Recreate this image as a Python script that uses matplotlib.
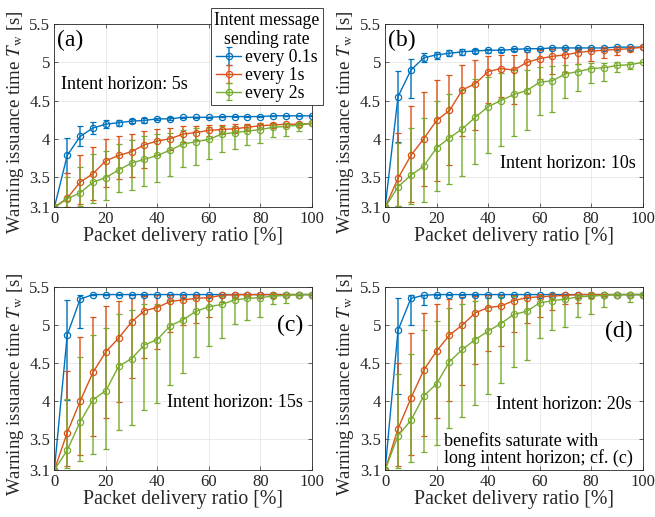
import matplotlib
matplotlib.use("Agg")
import matplotlib.pyplot as plt
import numpy as np

plt.rcParams["font.family"] = ["Liberation Serif", "DejaVu Serif"]
plt.rcParams["mathtext.fontset"] = "stix"

# packet delivery ratio [%]
pdr = list(range(0, 101, 5))

# (a) intent horizon 5s
a_blue = [3.1, 3.78, 4.03, 4.14, 4.19, 4.21, 4.23, 4.24, 4.26, 4.26, 4.28, 4.28, 4.28, 4.29, 4.29, 4.29, 4.29, 4.3, 4.3, 4.3, 4.3]
a_blue_hi = [3.1, 4.01, 4.16, 4.22, 4.25, 4.25, 4.26, 4.27, 4.27, 4.28, 4.29, 4.29, 4.29, 4.29, 4.3, 4.3, 4.3, 4.3, 4.3, 4.3, 4.3]
a_blue_lo = [3.1, 3.55, 3.9, 4.06, 4.14, 4.17, 4.2, 4.21, 4.24, 4.24, 4.27, 4.27, 4.27, 4.28, 4.28, 4.28, 4.28, 4.3, 4.3, 4.3, 4.3]
a_orange = [3.1, 3.22, 3.43, 3.54, 3.71, 3.78, 3.83, 3.92, 3.97, 4.0, 4.06, 4.08, 4.11, 4.12, 4.13, 4.15, 4.17, 4.18, 4.19, 4.19, 4.2]
a_orange_hi = [3.1, 3.55, 3.78, 3.89, 4.0, 4.04, 4.06, 4.1, 4.13, 4.14, 4.16, 4.17, 4.18, 4.18, 4.19, 4.19, 4.2, 4.2, 4.2, 4.2, 4.2]
a_orange_lo = [3.1, 3.1, 3.14, 3.2, 3.37, 3.47, 3.5, 3.62, 3.78, 3.85, 3.95, 3.98, 4.04, 4.06, 4.07, 4.1, 4.13, 4.15, 4.17, 4.18, 4.2]
a_green = [3.1, 3.21, 3.29, 3.43, 3.49, 3.59, 3.68, 3.73, 3.78, 3.85, 3.93, 3.96, 3.99, 4.06, 4.08, 4.1, 4.12, 4.15, 4.16, 4.18, 4.2]
a_green_hi = [3.1, 3.5, 3.63, 3.8, 3.84, 3.93, 3.98, 4.03, 4.06, 4.08, 4.12, 4.14, 4.15, 4.17, 4.17, 4.18, 4.19, 4.19, 4.2, 4.2, 4.2]
a_green_lo = [3.1, 3.1, 3.12, 3.16, 3.19, 3.3, 3.33, 3.38, 3.43, 3.51, 3.63, 3.66, 3.73, 3.83, 3.87, 3.92, 3.94, 4.02, 4.04, 4.1, 4.2]

# (b) intent horizon 10s
b_blue = [3.1, 4.55, 4.9, 5.06, 5.1, 5.12, 5.14, 5.15, 5.16, 5.16, 5.17, 5.18, 5.18, 5.19, 5.19, 5.19, 5.19, 5.19, 5.2, 5.2, 5.2]
b_blue_hi = [3.1, 4.89, 5.05, 5.12, 5.14, 5.16, 5.17, 5.17, 5.18, 5.18, 5.19, 5.19, 5.19, 5.2, 5.2, 5.2, 5.2, 5.2, 5.2, 5.2, 5.2]
b_blue_lo = [3.1, 3.95, 4.54, 5.0, 5.05, 5.08, 5.1, 5.12, 5.13, 5.14, 5.15, 5.16, 5.17, 5.18, 5.18, 5.18, 5.18, 5.19, 5.2, 5.2, 5.2]
b_orange = [3.1, 3.48, 3.78, 4.0, 4.24, 4.37, 4.64, 4.72, 4.88, 4.92, 4.9, 5.0, 5.05, 5.08, 5.1, 5.13, 5.15, 5.16, 5.17, 5.18, 5.2]
b_orange_hi = [3.1, 4.08, 4.43, 4.61, 4.77, 4.84, 4.97, 5.03, 5.09, 5.1, 5.1, 5.14, 5.16, 5.17, 5.18, 5.19, 5.2, 5.2, 5.2, 5.2, 5.2]
b_orange_lo = [3.1, 3.12, 3.17, 3.38, 3.45, 3.65, 4.04, 4.12, 4.47, 4.55, 4.45, 4.6, 4.78, 4.85, 4.88, 4.98, 5.02, 5.06, 5.1, 5.15, 5.2]
b_green = [3.1, 3.37, 3.52, 3.64, 3.88, 4.01, 4.13, 4.28, 4.42, 4.5, 4.58, 4.63, 4.74, 4.76, 4.85, 4.88, 4.92, 4.93, 4.96, 4.97, 5.0]
b_green_hi = [3.1, 3.94, 4.14, 4.27, 4.5, 4.58, 4.64, 4.78, 4.81, 4.86, 4.9, 4.9, 4.94, 4.95, 4.97, 4.98, 4.99, 4.99, 5.0, 5.0, 5.0]
b_green_lo = [3.1, 3.12, 3.14, 3.17, 3.31, 3.4, 3.51, 3.67, 3.81, 3.91, 4.04, 4.12, 4.31, 4.35, 4.54, 4.63, 4.73, 4.75, 4.87, 4.92, 5.0]

# (c) intent horizon 15s
c_blue = [3.1, 4.87, 5.34, 5.4, 5.4, 5.4, 5.4, 5.4, 5.4, 5.4, 5.4, 5.4, 5.4, 5.4, 5.4, 5.4, 5.4, 5.4, 5.4, 5.4, 5.4]
c_blue_hi = [3.1, 5.33, 5.4, 5.4, 5.4, 5.4, 5.4, 5.4, 5.4, 5.4, 5.4, 5.4, 5.4, 5.4, 5.4, 5.4, 5.4, 5.4, 5.4, 5.4, 5.4]
c_blue_lo = [3.1, 4.02, 4.96, 5.4, 5.4, 5.4, 5.4, 5.4, 5.4, 5.4, 5.4, 5.4, 5.4, 5.4, 5.4, 5.4, 5.4, 5.4, 5.4, 5.4, 5.4]
c_orange = [3.1, 3.59, 4.0, 4.38, 4.65, 4.83, 5.04, 5.19, 5.23, 5.31, 5.33, 5.35, 5.36, 5.39, 5.4, 5.4, 5.4, 5.4, 5.4, 5.4, 5.4]
c_orange_hi = [3.1, 4.4, 4.85, 5.11, 5.25, 5.31, 5.36, 5.38, 5.39, 5.4, 5.4, 5.4, 5.4, 5.4, 5.4, 5.4, 5.4, 5.4, 5.4, 5.4, 5.4]
c_orange_lo = [3.1, 3.15, 3.3, 3.54, 3.78, 3.99, 4.3, 4.57, 4.68, 4.91, 5.0, 5.03, 5.11, 5.3, 5.35, 5.38, 5.4, 5.4, 5.4, 5.4, 5.4]
c_green = [3.1, 3.36, 3.73, 4.02, 4.14, 4.46, 4.56, 4.74, 4.81, 4.99, 5.07, 5.18, 5.24, 5.27, 5.33, 5.35, 5.36, 5.38, 5.39, 5.4, 5.4]
c_green_hi = [3.1, 4.03, 4.58, 4.87, 4.96, 5.15, 5.2, 5.27, 5.28, 5.33, 5.35, 5.36, 5.37, 5.38, 5.39, 5.39, 5.4, 5.4, 5.4, 5.4, 5.4]
c_green_lo = [3.1, 3.12, 3.22, 3.31, 3.37, 3.62, 3.69, 3.89, 3.98, 4.22, 4.37, 4.58, 4.73, 4.83, 5.01, 5.06, 5.1, 5.27, 5.29, 5.4, 5.4]

# (d) intent horizon 20s
d_blue = [3.1, 4.93, 5.35, 5.39, 5.4, 5.4, 5.4, 5.4, 5.4, 5.4, 5.4, 5.4, 5.4, 5.4, 5.4, 5.4, 5.4, 5.4, 5.4, 5.4, 5.4]
d_blue_hi = [3.1, 5.35, 5.4, 5.4, 5.4, 5.4, 5.4, 5.4, 5.4, 5.4, 5.4, 5.4, 5.4, 5.4, 5.4, 5.4, 5.4, 5.4, 5.4, 5.4, 5.4]
d_blue_lo = [3.1, 4.1, 5.0, 5.26, 5.36, 5.4, 5.4, 5.4, 5.4, 5.4, 5.4, 5.4, 5.4, 5.4, 5.4, 5.4, 5.4, 5.4, 5.4, 5.4, 5.4]
d_orange = [3.1, 3.64, 4.04, 4.41, 4.66, 4.87, 5.0, 5.16, 5.23, 5.25, 5.32, 5.36, 5.37, 5.38, 5.39, 5.4, 5.4, 5.4, 5.4, 5.4, 5.4]
d_orange_hi = [3.1, 4.5, 4.9, 5.16, 5.28, 5.34, 5.37, 5.38, 5.39, 5.4, 5.4, 5.4, 5.4, 5.4, 5.4, 5.4, 5.4, 5.4, 5.4, 5.4, 5.4]
d_orange_lo = [3.1, 3.15, 3.3, 3.55, 3.78, 4.01, 4.21, 4.49, 4.66, 4.73, 4.91, 5.03, 5.1, 5.2, 5.28, 5.29, 5.35, 5.38, 5.4, 5.4, 5.4]
d_green = [3.1, 3.55, 3.75, 4.07, 4.23, 4.52, 4.68, 4.81, 4.92, 5.02, 5.14, 5.18, 5.29, 5.32, 5.34, 5.37, 5.38, 5.39, 5.4, 5.4, 5.4]
d_green_hi = [3.1, 4.36, 4.62, 4.94, 5.05, 5.22, 5.28, 5.32, 5.35, 5.37, 5.38, 5.39, 5.4, 5.4, 5.4, 5.4, 5.4, 5.4, 5.4, 5.4, 5.4]
d_green_lo = [3.1, 3.12, 3.2, 3.34, 3.43, 3.65, 3.8, 3.95, 4.09, 4.24, 4.45, 4.54, 4.83, 4.93, 4.97, 5.1, 5.15, 5.24, 5.4, 5.3, 5.4]

rate_labels = ["every 0.1s", "every 1s", "every 2s"]
colors = ["#0072BD", "#D95319", "#77AC30"]

panels = [
    ("(a)", "Intent horizon: 5s", [(a_blue, a_blue_lo, a_blue_hi), (a_orange, a_orange_lo, a_orange_hi), (a_green, a_green_lo, a_green_hi)]),
    ("(b)", "Intent horizon: 10s", [(b_blue, b_blue_lo, b_blue_hi), (b_orange, b_orange_lo, b_orange_hi), (b_green, b_green_lo, b_green_hi)]),
    ("(c)", "Intent horizon: 15s", [(c_blue, c_blue_lo, c_blue_hi), (c_orange, c_orange_lo, c_orange_hi), (c_green, c_green_lo, c_green_hi)]),
    ("(d)", "Intent horizon: 20s", [(d_blue, d_blue_lo, d_blue_hi), (d_orange, d_orange_lo, d_orange_hi), (d_green, d_green_lo, d_green_hi)]),
]

fig = plt.figure(figsize=(6.55, 5.17), dpi=100)
lefts = [0.083, 0.588, 0.083, 0.588]
bottoms = [0.599, 0.599, 0.091, 0.091]
w, h = 0.393, 0.354
dark = "#262626"

handles = []
for i, (tag, horizon, series) in enumerate(panels):
    ax = fig.add_axes([lefts[i], bottoms[i], w, h])
    for j, (m, lo, hi) in enumerate(series):
        m = np.array(m)
        yerr = [m - np.array(lo), np.array(hi) - m]
        eb = ax.errorbar(pdr, m, yerr=yerr, color=colors[j], lw=1.0,
                         marker="o", ms=4.5, mfc="none", mew=0.9,
                         elinewidth=1.2, capsize=2.5, capthick=1.0,
                         label=rate_labels[j])
        for bar in eb[2]:
            bar.set_alpha(0.85)
        if i == 0:
            handles.append(eb)
    ax.set_xlim(0, 100)
    ax.set_ylim(3.1, 5.5)
    ax.set_xticks([0, 20, 40, 60, 80, 100])
    ax.set_yticks([3.1, 3.5, 4, 4.5, 5, 5.5])
    ax.set_yticklabels(["3.1", "3.5", "4", "4.5", "5", "5.5"])
    ax.grid(True, color="#e6e6e6", lw=0.6)
    ax.set_axisbelow(True)
    ax.tick_params(direction="in", length=3, width=0.5, labelsize=12,
                   colors=dark, top=True, right=True, pad=3)
    for s in ax.spines.values():
        s.set_color(dark)
        s.set_linewidth(0.6)
    ax.set_xlabel("Packet delivery ratio [%]", fontsize=14.3, color=dark, labelpad=0)
    ax.set_ylabel(r"Warning issuance time $T_\mathrm{w}$ [s]", fontsize=13.6, color=dark)
    ax.yaxis.set_label_coords(-0.112, 0.5 - 6 / 183)

    if tag == "(a)":
        ax.text(0.012, 0.91, tag, transform=ax.transAxes, fontsize=17, va="center", ha="left")
        ax.text(0.027, 0.672, horizon, transform=ax.transAxes, fontsize=13, va="center", ha="left")
    elif tag == "(b)":
        ax.text(0.012, 0.91, tag, transform=ax.transAxes, fontsize=17, va="center", ha="left")
        ax.text(0.973, 0.24, horizon, transform=ax.transAxes, fontsize=13, va="center", ha="right")
    elif tag == "(c)":
        ax.text(0.965, 0.79, tag, transform=ax.transAxes, fontsize=17, va="center", ha="right")
        ax.text(0.965, 0.37, horizon, transform=ax.transAxes, fontsize=13, va="center", ha="right")
    else:
        ax.text(0.96, 0.755, tag, transform=ax.transAxes, fontsize=17, va="center", ha="right")
        ax.text(0.958, 0.36, horizon, transform=ax.transAxes, fontsize=13, va="center", ha="right")
        ax.text(0.23, 0.11, "benefits saturate with\nlong intent horizon; cf. (c)",
                transform=ax.transAxes, fontsize=13, va="center", ha="left", linespacing=0.95)

leg = fig.legend(handles=handles, labels=rate_labels, loc="upper right",
                 bbox_to_anchor=(323 / 655, 1 - 8 / 517), fontsize=12.7,
                 title="Intent message\nsending rate", title_fontsize=12.7,
                 fancybox=False, framealpha=1, edgecolor=dark,
                 borderaxespad=0, borderpad=0.2, handlelength=1.4,
                 handletextpad=0.2, labelspacing=0.05)
leg.get_frame().set_linewidth(0.6)
leg.get_title().set_multialignment("center")

fig.savefig("out.png", dpi=100)
